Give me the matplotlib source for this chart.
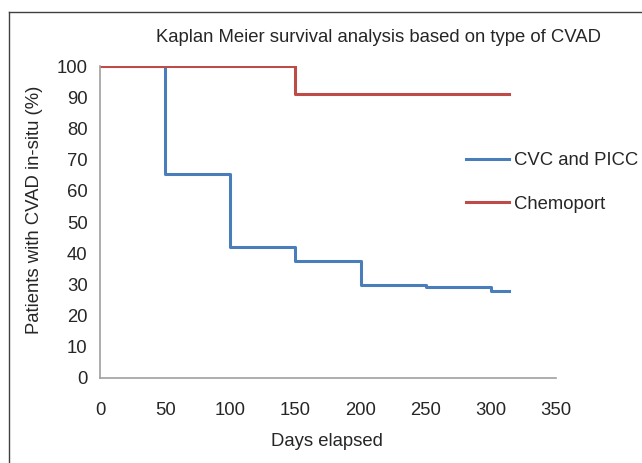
import matplotlib.pyplot as plt
from matplotlib.lines import Line2D

plt.rcParams['font.family'] = ['Liberation Sans', 'DejaVu Sans']

# Kaplan Meier curves
cvc_days = [0, 50, 100, 150, 200, 250, 300, 314]
cvc_pct = [100, 65.5, 42, 37.4, 29.7, 29.1, 27.9, 27.9]
port_days = [0, 150, 314]
port_pct = [100, 91, 91]

series_names = ['CVC and PICC', 'Chemoport']
series_colors = ['#4A7EBB', '#BE4B48']
xticks = [0, 50, 100, 150, 200, 250, 300, 350]
yticks = [0, 10, 20, 30, 40, 50, 60, 70, 80, 90, 100]

fig = plt.figure(figsize=(6.42, 4.63), dpi=100)
ax = fig.add_axes([100/642, 1-378/463, 456/642, 312/463])

txt = '#262626'
fs = 13.3
ax.step(cvc_days, cvc_pct, where='post', color=series_colors[0], lw=2.2, label=series_names[0])
ax.step(port_days, port_pct, where='post', color=series_colors[1], lw=2.2, label=series_names[1])

ax.set_xlim(0, 350)
ax.set_ylim(0, 100)
ax.set_xticks(xticks)
ax.set_yticks(yticks)
ax.tick_params(length=0, labelsize=fs, colors=txt)
ax.tick_params(axis='y', pad=9)
ax.tick_params(axis='x', pad=17)
for s in ['top', 'right']:
    ax.spines[s].set_visible(False)
for s in ['left', 'bottom']:
    ax.spines[s].set_color('#A0A0A0')
    ax.spines[s].set_linewidth(1.2)

fig.text(379/642, 1-37/463, 'Kaplan Meier survival analysis based on type of CVAD',
         ha='center', va='center', fontsize=fs, color=txt)
fig.text(35/642, 1-210/463, 'Patients with CVAD in-situ (%)', rotation=90,
         ha='center', va='center', fontsize=fs, color=txt)
fig.text(327/642, 1-442/463, 'Days elapsed', ha='center', va='center', fontsize=fs, color=txt)

handles = [Line2D([], [], color=c, lw=2.2) for c in series_colors]
fig.legend(handles, series_names, loc='upper left', bbox_to_anchor=(466/642, 1-152/463),
           frameon=False, fontsize=fs, handlelength=2.35, handletextpad=0.27,
           labelspacing=1.45, borderpad=0, borderaxespad=0, labelcolor=txt)

# outer border: only top and left edges are visible in the source
fig.add_artist(Line2D([9/642, 9/642], [0, 1-12/463], transform=fig.transFigure, color='#404040', lw=1))
fig.add_artist(Line2D([9/642, 1], [1-12/463, 1-12/463], transform=fig.transFigure, color='#404040', lw=1))

fig.savefig('out.png', dpi=100)
